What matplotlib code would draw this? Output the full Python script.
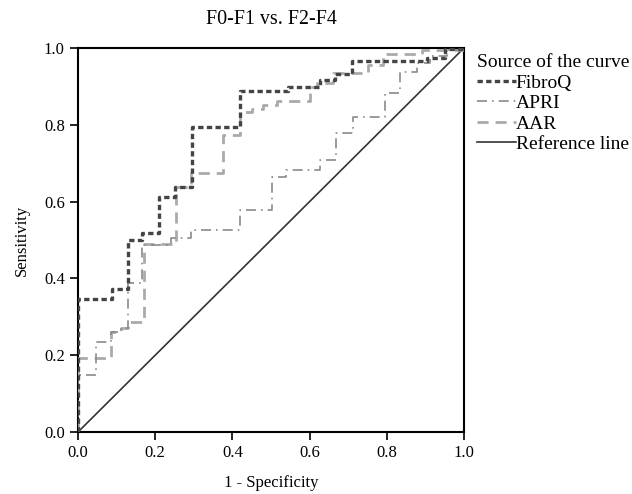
import matplotlib
matplotlib.use("Agg")
import matplotlib.pyplot as plt

plt.rcParams["font.family"] = ["Liberation Serif", "DejaVu Serif"]
plt.rcParams["font.size"] = 12

# ROC points (1 - specificity, sensitivity)
fibroq_fpr = [0, 0, 0.088, 0.129, 0.167, 0.21, 0.251, 0.295, 0.42, 0.544, 0.627, 0.666, 0.709, 0.905, 0.95, 1.0]
fibroq_tpr = [0, 0.346, 0.372, 0.5, 0.518, 0.612, 0.638, 0.795, 0.888, 0.898, 0.917, 0.932, 0.967, 0.975, 0.997, 1.0]

apri_fpr = [0, 0, 0.047, 0.085, 0.111, 0.13, 0.165, 0.24, 0.294, 0.42, 0.502, 0.54, 0.627, 0.668, 0.712,
            0.795, 0.834, 0.877, 0.912, 0.955, 1.0]
apri_tpr = [0, 0.148, 0.234, 0.26, 0.27, 0.388, 0.487, 0.505, 0.526, 0.578, 0.665, 0.682, 0.708, 0.778, 0.821,
            0.882, 0.938, 0.96, 0.98, 0.995, 1.0]

aar_fpr = [0, 0, 0.085, 0.111, 0.13, 0.171, 0.254, 0.294, 0.376, 0.42, 0.45, 0.48, 0.515, 0.6, 0.62, 0.66,
           0.75, 0.79, 0.89, 1.0]
aar_tpr = [0, 0.193, 0.26, 0.27, 0.286, 0.49, 0.638, 0.674, 0.773, 0.833, 0.841, 0.851, 0.862, 0.898, 0.908,
           0.935, 0.955, 0.985, 0.995, 1.0]

ticks = [0.0, 0.2, 0.4, 0.6, 0.8, 1.0]

fig = plt.figure(figsize=(6.32, 4.94), dpi=100)
ax = fig.add_axes([78 / 632, 62 / 494, 386 / 632, 384 / 494])

ax.plot([0, 1], [0, 1], color="#333333", lw=1.2, label="Reference line", zorder=2)
ax.plot(aar_fpr, aar_tpr, drawstyle="steps-post", color="#aaaaaa", lw=2.0,
        linestyle=(0, (4, 2.5)), label="AAR", zorder=3)
ax.plot(apri_fpr, apri_tpr, drawstyle="steps-post", color="#8a8a8a", lw=1.2,
        linestyle=(0, (6, 3, 1, 3)), label="APRI", zorder=4)
ax.plot(fibroq_fpr, fibroq_tpr, drawstyle="steps-post", color="#444444", lw=2.4,
        linestyle=(0, (1.6, 1.0)), label="FibroQ", zorder=5)

ax.set_xlim(0, 1)
ax.set_ylim(0, 1)
ax.set_xticks(ticks)
ax.set_yticks(ticks)
ax.set_xticklabels([f"{t:.1f}" for t in ticks])
ax.set_yticklabels([f"{t:.1f}" for t in ticks])
ax.tick_params(direction="out", length=6, width=1.2, color="black", labelsize=12)
for s in ax.spines.values():
    s.set_linewidth(1.5)

ax.set_xlabel("1 - Specificity", labelpad=10)
ax.set_ylabel("Sensitivity", labelpad=10)
ax.set_title("F0-F1 vs. F2-F4", pad=17)

handles, labels = ax.get_legend_handles_labels()
order = [3, 2, 1, 0]
leg = fig.legend([handles[i] for i in order], [labels[i] for i in order],
                 title="Source of the curve", loc="upper left",
                 bbox_to_anchor=(477 / 632, 1 - 54 / 494), frameon=False,
                 handlelength=2.0, handletextpad=0.0, labelspacing=0.15,
                 borderaxespad=0, borderpad=0, alignment="left",
                 fontsize=14, title_fontsize=14)

fig.savefig("out.png", dpi=100)
